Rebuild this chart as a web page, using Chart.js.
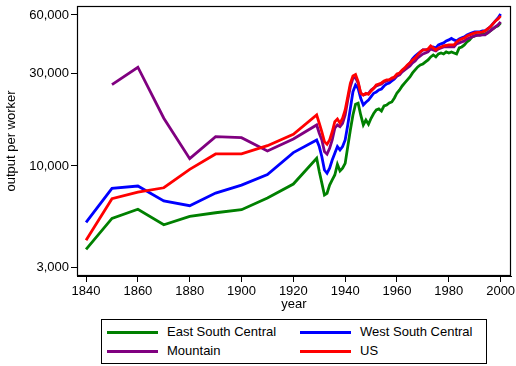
<!DOCTYPE html>
<html>
<head>
<meta charset="utf-8">
<script src="https://cdn.jsdelivr.net/npm/chart.js@4/dist/chart.umd.min.js"></script>
<style>
  html, body { margin: 0; padding: 0; background: #fff; }
  #wrap { position: relative; width: 516px; height: 366px; }
  #chart { position: absolute; left: 0; top: 0; }
  #legend {
    position: absolute; left: 101px; top: 319px; width: 384px; height: 43px;
    border: 1px solid #000; background: #fff;
    font: 13px "Liberation Sans", Arial, sans-serif; color: #000;
  }
  .item { position: absolute; height: 16px; line-height: 16px; width: 190px; }
  .item .sw { position: absolute; left: 0; top: 6.5px; width: 51px; height: 3px; }
  .item .tx { position: absolute; left: 60px; top: 0; white-space: nowrap; }
</style>
</head>
<body>
<div id="wrap">
  <canvas id="chart" width="516" height="366"></canvas>
  <div id="legend"></div>
</div>
<script>
// Census years, then annual observations from 1929
const years = [1840, 1850, 1860, 1870, 1880, 1890, 1900, 1910, 1920,
  1929, 1930, 1931, 1932, 1933, 1934, 1935, 1936, 1937, 1938, 1939,
  1940, 1941, 1942, 1943, 1944, 1945, 1946, 1947, 1948, 1949,
  1950, 1951, 1952, 1953, 1954, 1955, 1956, 1957, 1958, 1959,
  1960, 1961, 1962, 1963, 1964, 1965, 1966, 1967, 1968, 1969,
  1970, 1971, 1972, 1973, 1974, 1975, 1976, 1977, 1978, 1979,
  1980, 1981, 1982, 1983, 1984, 1985, 1986, 1987, 1988, 1989,
  1990, 1991, 1992, 1993, 1994, 1995, 1996, 1997, 1998, 1999, 2000];

// Output per worker by region
const eastSouthCentral = [3720, 5370, 5980, 4980, 5500, 5740, 5950, 6840, 8070,
  10950, 9370, 8160, 7090, 7230, 7970, 8470, 8980, 10190, 9420, 9730,
  10310, 12580, 15320, 18310, 20790, 21040, 18310, 16260, 17250, 16390,
  17610, 18640, 19420, 19660, 19190, 20370, 20610, 21110, 21360, 22400,
  23770, 24630, 25830, 26770, 27740, 28740, 30140, 31240, 32370, 33150,
  33540, 34340, 35170, 36450, 37320, 36450, 37770, 38220, 37770, 38680,
  38220, 38680, 38220, 37770, 40550, 41040, 42030, 43550, 44600, 46220,
  46770, 47330, 47330, 47900, 47900, 48470, 49630, 50820, 52040, 52660, 54570];

const westSouthCentral = [5120, 7670, 7880, 6600, 6240, 7250, 7970, 9020, 11710,
  13610, 12590, 11150, 9530, 9170, 9730, 10730, 11630, 12590, 12090, 12590,
  13610, 16260, 19800, 24140, 26140, 25130, 22320, 20610, 21290, 21870,
  22750, 23690, 24060, 24630, 24930, 25830, 26450, 26770, 27410, 28070,
  29090, 29790, 30870, 31610, 32750, 33940, 35590, 36880, 37770, 38680,
  39600, 39600, 39600, 40550, 41040, 40550, 42030, 42530, 43040, 44070,
  44600, 45400, 44600, 44070, 45130, 45670, 46220, 47330, 47900, 48470,
  49050, 49050, 49050, 49630, 49630, 50820, 52040, 53920, 55870, 57900, 60710];

const mountain = [null, 26240, 32260, 17610, 10900, 14160, 13990, 11950, 13770,
  16260, 14740, 13610, 11850, 11500, 12340, 13610, 15640, 16260, 15950, 16600,
  18310, 21870, 25620, 28310, 28500, 26680, 23690, 23210, 23400, 23690,
  24630, 25140, 25830, 26140, 26450, 27090, 27410, 27740, 28070, 28410,
  29090, 29440, 30500, 31240, 31990, 32750, 33940, 34760, 36020, 36880,
  37770, 38220, 38680, 40070, 39600, 39140, 40070, 40550, 41040, 41040,
  41040, 41040, 41040, 42530, 43040, 43550, 44070, 45130, 45670, 46220,
  46770, 47050, 47050, 47330, 47330, 48470, 49630, 50820, 52040, 53290, 55220];

const us = [4140, 6780, 7320, 7720, 9610, 11530, 11530, 12720, 14560,
  18310, 16600, 15000, 13340, 12930, 13610, 15000, 16900, 17460, 16600, 17610,
  19420, 22750, 26670, 29100, 29600, 27190, 23690, 23210, 23690, 23400,
  24340, 25140, 26140, 26450, 26770, 27410, 27740, 27740, 28410, 28740,
  29790, 30140, 31240, 31990, 33150, 33940, 35170, 36020, 37320, 38680,
  39600, 39600, 40070, 41530, 40550, 39600, 40550, 41040, 41530, 41780,
  42030, 42030, 42030, 43550, 44600, 45130, 45670, 46770, 47330, 47900,
  48470, 48760, 48760, 49050, 49630, 50820, 52040, 53920, 55870, 57210, 59290];

const seriesNames = ['East South Central', 'West South Central', 'Mountain', 'US'];
const xTicks = [1840, 1860, 1880, 1900, 1920, 1940, 1960, 1980, 2000];
const yTicks = [3000, 10000, 30000, 60000];

const colors = ['#008000', '#0000ff', '#800080', '#ff0000'];
const seriesValues = [eastSouthCentral, westSouthCentral, mountain, us];
const drawOrder = [4, 3, 2, 1];

const font = { family: '"Liberation Sans", Arial, sans-serif', size: 13 };

function withCommas(v) {
  return String(Math.round(v)).replace(/\B(?=(\d{3})+(?!\d))/g, ',');
}

// Box around the plotting region
const framePlugin = {
  id: 'frame',
  afterDraw(chart) {
    const a = chart.chartArea, ctx = chart.ctx;
    ctx.save();
    ctx.strokeStyle = '#000';
    ctx.lineWidth = 1.2;
    ctx.strokeRect(Math.round(a.left) + 0.5, Math.round(a.top) + 0.5,
      Math.round(a.right - a.left) - 1, Math.round(a.bottom - a.top) - 1);
    ctx.restore();
  }
};

new Chart(document.getElementById('chart'), {
  type: 'line',
  data: {
    datasets: seriesNames.map((name, k) => ({
      label: name,
      data: years.map((yr, i) => ({ x: yr, y: seriesValues[k][i] })),
      borderColor: colors[k],
      backgroundColor: colors[k],
      borderWidth: 2.8,
      pointRadius: 0,
      tension: 0,
      fill: false,
      order: drawOrder[k]
    }))
  },
  options: {
    responsive: false,
    animation: false,
    devicePixelRatio: 1,
    layout: { padding: { left: 0, right: 5, top: 6, bottom: 54 } },
    plugins: { legend: { display: false }, tooltip: { enabled: false } },
    scales: {
      x: {
        type: 'linear', min: 1836.5, max: 2004,
        afterBuildTicks: s => { s.ticks = xTicks.map(v => ({ value: v })); },
        afterFit: s => { s.height = 36; s.paddingLeft = 0; s.paddingRight = 0; },
        ticks: { font, color: '#000', padding: 2, maxRotation: 0, autoSkip: false,
                 callback: v => String(v) },
        grid: { drawOnChartArea: false, drawTicks: true, tickLength: 6, color: '#000' },
        border: { display: true, color: '#000', width: 1 },
        title: { display: true, text: 'year', font, color: '#000', padding: { top: 0, bottom: 0 } }
      },
      y: {
        type: 'logarithmic', min: 2710, max: 66700,
        afterBuildTicks: s => { s.ticks = yTicks.map(v => ({ value: v })); },
        afterFit: s => { s.width = 77; s.paddingTop = 0; s.paddingBottom = 0; },
        ticks: { font, color: '#000', padding: 2, autoSkip: false, callback: v => withCommas(v) },
        grid: { drawOnChartArea: false, drawTicks: true, tickLength: 6, color: '#000' },
        border: { display: true, color: '#000', width: 1 },
        title: { display: true, text: 'output per worker', font, color: '#000', padding: { top: 4, bottom: 0 } }
      }
    }
  },
  plugins: [framePlugin]
});

// Two-column legend box under the plot
const legend = document.getElementById('legend');
const slots = [[5, 4], [198, 4], [5, 23], [198, 23]];
seriesNames.forEach((name, k) => {
  const item = document.createElement('div');
  item.className = 'item';
  item.style.left = slots[k][0] + 'px';
  item.style.top = slots[k][1] + 'px';
  const sw = document.createElement('span');
  sw.className = 'sw';
  sw.style.background = colors[k];
  const tx = document.createElement('span');
  tx.className = 'tx';
  tx.textContent = name;
  item.appendChild(sw);
  item.appendChild(tx);
  legend.appendChild(item);
});
</script>
</body>
</html>
